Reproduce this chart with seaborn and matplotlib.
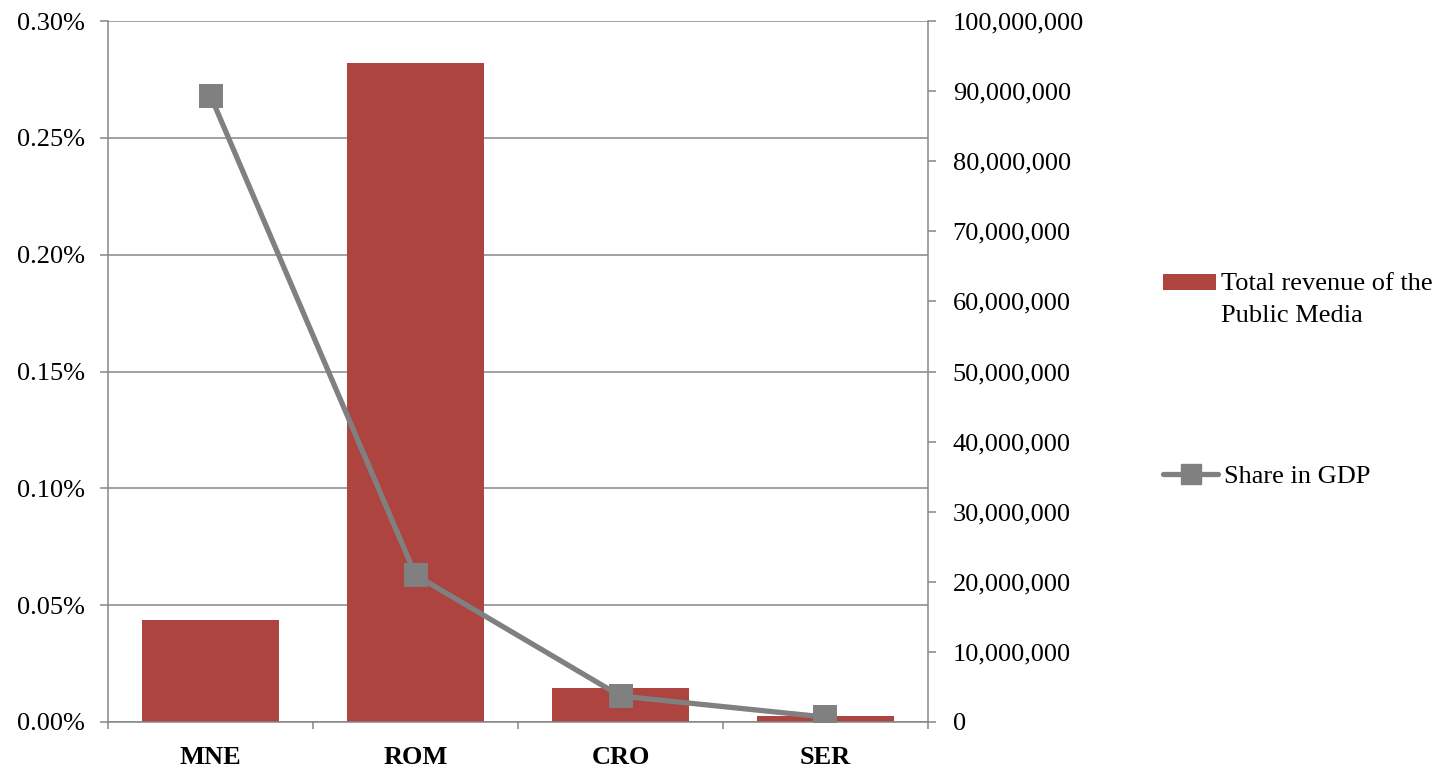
import numpy as np
import pandas as pd
import matplotlib
matplotlib.use("Agg")
import matplotlib.pyplot as plt
import seaborn as sns
from matplotlib.ticker import FuncFormatter, FixedLocator
from matplotlib.lines import Line2D
from matplotlib.patches import Patch, Rectangle
from matplotlib.legend_handler import HandlerPatch

# Data
countries = ["MNE", "ROM", "CRO", "SER"]
revenue = [14_550_000, 94_000_000, 4_800_000, 810_000]      # total revenue of the public media
gdp_share = [0.268, 0.0629, 0.0111, 0.0021]                  # share in GDP, percent

share_ticks = [0.00, 0.05, 0.10, 0.15, 0.20, 0.25, 0.30]
revenue_ticks = list(range(0, 100_000_001, 10_000_000))

df = pd.DataFrame({"country": countries, "revenue": revenue, "share": gdp_share})

sns.set_style("white")
plt.rcParams["font.family"] = ["Liberation Serif", "DejaVu Serif"]
plt.rcParams["font.size"] = 19
plt.rcParams["text.color"] = "black"
plt.rcParams["xtick.labelcolor"] = "black"
plt.rcParams["ytick.labelcolor"] = "black"

BAR = "#AE4440"
LINE = "#808080"
AXIS = "#868686"

fig = plt.figure(figsize=(14.55, 7.69), dpi=100)
W, H = 1455, 769
ax = fig.add_axes([108 / W, 1 - 722 / H, (928 - 108) / W, (722 - 21) / H])
ax2 = ax.twinx()

# Revenue bars (right-hand scale)
sns.barplot(data=df, x="country", y="revenue", color=BAR, saturation=1,
            width=0.67, linewidth=0, ax=ax)
ax.set_ylim(0, 100_000_000)
ax.yaxis.tick_right()
ax.set_yticks(revenue_ticks)
ax.yaxis.set_major_formatter(FuncFormatter(lambda v, p: f"{v:,.0f}"))
ax.tick_params(axis="y", which="major", length=8 * 0.72, width=1.1, color=AXIS,
               pad=12, labelsize=19, right=True, left=False,
               labelright=True, labelleft=False, labelcolor="black")

# Horizontal gridlines follow the percentage scale
ax.yaxis.remove_overlapping_locs = False
ax.yaxis.set_minor_locator(FixedLocator(np.linspace(0, 100_000_000, len(share_ticks))))
ax.tick_params(axis="y", which="minor", length=0)
ax.grid(False)
ax.grid(True, which="minor", axis="y", color=AXIS, linewidth=1.1)
ax.set_axisbelow(True)

# Category axis: labels centred, tick marks between categories
ax.set_xlim(-0.5, len(countries) - 0.5)
ax.tick_params(axis="x", which="major", length=0, pad=17, labelcolor="black")
ax.xaxis.set_minor_locator(FixedLocator(np.arange(-0.5, len(countries), 1.0)))
ax.tick_params(axis="x", which="minor", length=7 * 0.72, width=1.1, color=AXIS,
               bottom=True)
ax.set_xlabel("")
ax.set_ylabel("")

ax.spines["top"].set_visible(False)
for side in ["left", "right", "bottom"]:
    ax.spines[side].set_color(AXIS)
    ax.spines[side].set_linewidth(1.1)

# Share in GDP line (left-hand percentage scale)
sns.pointplot(data=df, x="country", y="share", color=LINE, markers="s",
              linestyles="-", markersize=14.4, linewidth=3.8,
              markeredgecolor=LINE, ax=ax2)
ax2.set_xlim(-0.5, len(countries) - 0.5)
ax2.set_ylim(0, 0.30)
ax2.yaxis.tick_left()
ax2.set_yticks(share_ticks)
ax2.yaxis.set_major_formatter(FuncFormatter(lambda v, p: f"{v:.2f}%"))
ax2.tick_params(axis="y", length=8 * 0.72, width=1.1, color=AXIS, pad=11,
                labelsize=19, left=True, right=False,
                labelleft=True, labelright=False, labelcolor="black")
ax2.set_xlabel("")
ax2.set_ylabel("")
ax2.grid(False)
for s in ax2.spines.values():
    s.set_visible(False)

for lbl in ax.get_xticklabels():
    lbl.set_fontweight("bold")


# Legend: the bar swatch sits beside the first line of its two-line label
def top_aligned_swatch(legend, orig_handle, xdescent, ydescent, width, height, fontsize):
    return Rectangle((-xdescent, -ydescent + 12.5), width, height)


bar_handle = Patch(facecolor=BAR, edgecolor="none")
line_handle = Line2D([], [], color=LINE, linewidth=3.8, marker="s",
                     markersize=14.4, markeredgecolor=LINE)
leg1 = fig.legend([bar_handle], ["Total revenue of the\nPublic Media"],
                  loc="upper left", bbox_to_anchor=(1163 / W, 1 - 273 / H),
                  frameon=False, fontsize=19, handlelength=2.0, handleheight=0.55,
                  handletextpad=0.2, borderpad=0, borderaxespad=0,
                  handler_map={Patch: HandlerPatch(patch_func=top_aligned_swatch)})
leg1.get_texts()[0].set_linespacing(1.6)
fig.legend([line_handle], ["Share in GDP"],
           loc="upper left", bbox_to_anchor=(1163 / W, 1 - 465 / H),
           frameon=False, fontsize=19, handlelength=2.1,
           handletextpad=0.2, borderpad=0, borderaxespad=0)

fig.savefig("out.png", dpi=100)
